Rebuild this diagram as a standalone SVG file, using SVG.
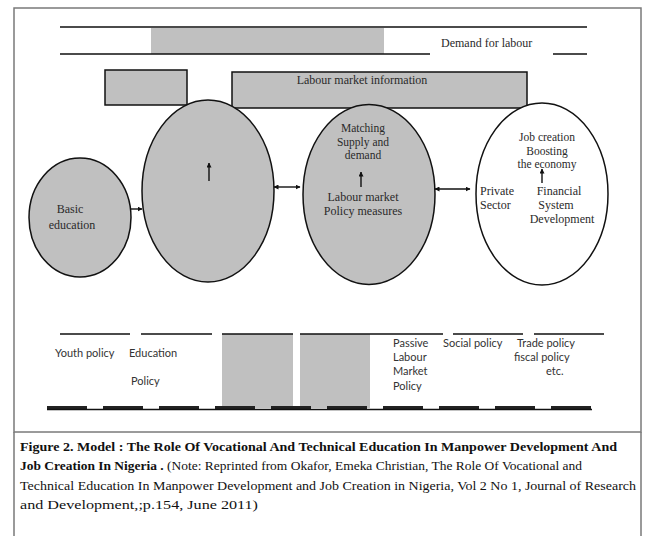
<svg xmlns="http://www.w3.org/2000/svg" width="645" height="536" viewBox="0 0 645 536">
<style>
.frame{fill:none;stroke:#7a7a7a;stroke-width:1.5}
.bar{stroke:#111;stroke-width:1.6;fill:none}
.gray{fill:#c0c0c0}
.box{fill:#c0c0c0;stroke:#111;stroke-width:1.5}
.ell{fill:#c0c0c0;stroke:#111;stroke-width:1.5}
.ellw{fill:#fff;stroke:#111;stroke-width:1.5}
.t{font-family:"Liberation Serif","Times New Roman",serif;font-size:12px;fill:#2a2a2a}
.st{font-size:11.5px}
.s{font-family:Lato,"Liberation Sans",sans-serif;font-size:11px;fill:#333}
.cap{font-family:"Liberation Serif","Times New Roman",serif;font-size:12.5px;fill:#111}
.b{font-weight:bold}
.con{stroke:#111;stroke-width:1.4;fill:none}
.dash{stroke:#222;stroke-width:3;stroke-dasharray:40 16;fill:none}
</style>
<defs>
<marker id="ah" viewBox="0 0 10 10" refX="9" refY="5" markerWidth="5" markerHeight="5" orient="auto-start-reverse" markerUnits="userSpaceOnUse"><path d="M0,0 L10,5 L0,10 z" fill="#111"/></marker>
</defs>
<rect class="frame" x="14" y="8" width="627" height="424"/>
<path class="frame" d="M14,432 V536 M641,432 V536"/>
<g id="demand">
<rect class="gray" x="151" y="28" width="233" height="26"/>
<path class="bar" d="M60,27 H587 M60,54 H430 M553,54 H587"/>
<text class="t" x="441" y="47">Demand for labour</text>
</g>
<g id="smallbox"><rect class="box" x="105" y="70" width="82" height="35"/></g>
<g id="lmi">
<rect class="box" x="232" y="72" width="295" height="36"/>
<text class="t" x="362" y="84" text-anchor="middle">Labour market information</text>
</g>
<g id="basic">
<ellipse class="ell" cx="80" cy="217.5" rx="51" ry="59.5"/>
<text class="t" x="70" y="213" text-anchor="middle">Basic</text>
<text class="t" x="72" y="229" text-anchor="middle">education</text>
</g>
<g id="vocational">
<ellipse class="ell" cx="208" cy="191" rx="66" ry="91"/>
</g>
<g id="matching">
<ellipse class="ell" cx="369" cy="194.5" rx="66" ry="90"/>
<text class="t st" x="363" y="132" text-anchor="middle">Matching</text>
<text class="t st" x="363" y="145.5" text-anchor="middle">Supply and</text>
<text class="t st" x="363" y="159" text-anchor="middle">demand</text>
<text class="t" x="363" y="201" text-anchor="middle">Labour market</text>
<text class="t" x="363" y="215" text-anchor="middle">Policy measures</text>
</g>
<g id="jobcreation">
<ellipse class="ellw" cx="542" cy="194" rx="66" ry="91"/>
<text class="t st" x="547" y="141" text-anchor="middle">Job creation</text>
<text class="t st" x="547" y="154.5" text-anchor="middle">Boosting</text>
<text class="t st" x="547" y="168" text-anchor="middle">the economy</text>
<text class="t" x="480" y="195">Private</text>
<text class="t" x="480" y="209">Sector</text>
<text class="t" x="559" y="195" text-anchor="middle">Financial</text>
<text class="t" x="556" y="209" text-anchor="middle">System</text>
<text class="t" x="562" y="223" text-anchor="middle">Development</text>
</g>
<g id="connectors">
<line class="con" x1="130" y1="209" x2="142" y2="209" marker-end="url(#ah)" stroke-width="2.5"/>
<line class="con" x1="274" y1="187" x2="300" y2="187" marker-start="url(#ah)" marker-end="url(#ah)"/>
<line class="con" x1="435" y1="189" x2="470" y2="189" marker-start="url(#ah)" marker-end="url(#ah)"/>
<line class="con" x1="209" y1="181" x2="209" y2="163" marker-end="url(#ah)" stroke-width="1.8"/>
<line class="con" x1="361" y1="187" x2="361" y2="172" marker-end="url(#ah)" stroke-width="1.8"/>
<line class="con" x1="542" y1="183" x2="542" y2="169" marker-end="url(#ah)" stroke-width="1.8"/>
</g>
<g id="policies">
<rect class="gray" x="222" y="334" width="71" height="74"/>
<rect class="gray" x="300" y="334" width="70" height="74"/>
<path class="bar" d="M60,334 H130 M141,334 H212 M222,334 H293 M300,334 H443 M453,334 H523 M534,334 H604" stroke-width="2"/>
<path class="dash" d="M47,407.5 H591"/>
<path class="con" d="M47,409.5 H592" stroke-width="1"/>
<text class="s" x="55" y="357">Youth policy</text>
<text class="s" x="129" y="357">Education</text>
<text class="s" x="131" y="385">Policy</text>
<text class="s" x="393" y="347">Passive</text>
<text class="s" x="393" y="361">Labour</text>
<text class="s" x="393" y="375">Market</text>
<text class="s" x="393" y="390">Policy</text>
<text class="s" x="443" y="347">Social policy</text>
<text class="s" x="517" y="347">Trade policy</text>
<text class="s" x="514" y="361">fiscal policy</text>
<text class="s" x="546" y="375">etc.</text>
</g>
<g id="caption">
<text class="cap b" x="20" y="451" textLength="597" lengthAdjust="spacingAndGlyphs">Figure 2. Model : The Role Of Vocational And Technical Education In Manpower Development And</text>
<text class="cap" x="20" y="470" textLength="562" lengthAdjust="spacingAndGlyphs"><tspan class="b">Job  Creation In Nigeria .</tspan> (Note: Reprinted from Okafor, Emeka Christian, The Role Of Vocational and</text>
<text class="cap" x="20" y="490" textLength="616" lengthAdjust="spacingAndGlyphs">Technical Education In Manpower Development and Job Creation in Nigeria, Vol 2 No 1, Journal of Research</text>
<text class="cap" x="20" y="509" textLength="238" lengthAdjust="spacingAndGlyphs">and Development,;p.154, June 2011)</text>
</g>
</svg>
